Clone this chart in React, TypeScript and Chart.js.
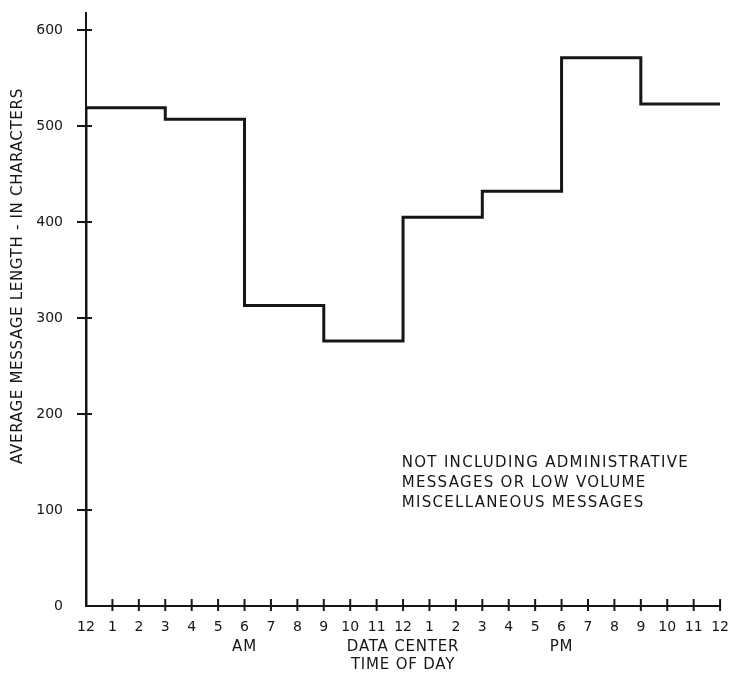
import React, { useEffect, useRef } from "react";
import { Chart, registerables } from "chart.js";

Chart.register(...registerables);

// Step boundaries (hour of day, 0 = midnight) and average message length per block
const stepHours = [0, 3, 6, 9, 12, 15, 18, 21, 24];
const blockValues = [519, 507, 313, 276, 405, 432, 571, 523];
const yTicks = [0, 100, 200, 300, 400, 500, 600];
const hourTicks = Array.from({ length: 25 }, (_, i) => i);
const hourLabels = ["12", "1", "2", "3", "4", "5", "6", "7", "8", "9", "10", "11", "12", "1", "2", "3", "4", "5", "6", "7", "8", "9", "10", "11", "12"];
const yTitle = "AVERAGE MESSAGE LENGTH - IN CHARACTERS";
const noteLines = ["NOT INCLUDING ADMINISTRATIVE", "MESSAGES OR LOW VOLUME", "MISCELLANEOUS MESSAGES"];
const bottomLabels = [
  { hour: 6, lines: ["AM"] },
  { hour: 12, lines: ["DATA CENTER", "TIME OF DAY"] },
  { hour: 18, lines: ["PM"] },
];

const FONT = "'DejaVu Sans', sans-serif";
const INK = "#161616";

export default function App() {
  const ref = useRef<HTMLCanvasElement | null>(null);

  useEffect(() => {
    if (!ref.current) return;
    const points: { x: number; y: number }[] = [{ x: 0, y: 0 }];
    blockValues.forEach((v, i) => points.push({ x: stepHours[i], y: v }));
    points.push({ x: stepHours[stepHours.length - 1], y: blockValues[blockValues.length - 1] });

    const decor = {
      id: "decor",
      afterDraw(chart: any) {
        const ctx = chart.ctx;
        const xs = chart.scales.x;
        const ys = chart.scales.y;
        const left = xs.getPixelForValue(0);
        const right = xs.getPixelForValue(24);
        const bottom = ys.getPixelForValue(0);
        const top = ys.getPixelForValue(600);
        ctx.save();
        ctx.strokeStyle = INK;
        ctx.lineWidth = 2;
        ctx.beginPath();
        ctx.moveTo(left, top - 18);
        ctx.lineTo(left, bottom);
        ctx.lineTo(right, bottom);
        ctx.stroke();
        // y tick marks (cross)
        yTicks.forEach((v) => {
          if (v === 0) return;
          const y = ys.getPixelForValue(v);
          ctx.beginPath();
          ctx.moveTo(left - 9, y);
          ctx.lineTo(left + 6, y);
          ctx.stroke();
        });
        // x tick marks
        hourTicks.forEach((h) => {
          if (h === 0) return;
          const x = xs.getPixelForValue(h);
          ctx.beginPath();
          ctx.moveTo(x, bottom - 7);
          ctx.lineTo(x, bottom + 5);
          ctx.stroke();
        });
        // bottom labels
        ctx.fillStyle = INK;
        ctx.font = `15px ${FONT}`;
        ctx.letterSpacing = "0.8px";
        ctx.textAlign = "center";
        ctx.textBaseline = "middle";
        bottomLabels.forEach((b) => {
          const x = xs.getPixelForValue(b.hour);
          b.lines.forEach((t, i) => ctx.fillText(t, x, bottom + 41 + i * 18));
        });
        // note
        ctx.letterSpacing = "1.3px";
        ctx.textAlign = "left";
        const nx = xs.getPixelForValue(11.95);
        const ny = ys.getPixelForValue(149);
        noteLines.forEach((t, i) => ctx.fillText(t, nx, ny + i * 20));
        // y title
        ctx.letterSpacing = "0.7px";
        ctx.translate(18, (top + bottom) / 2 - 42);
        ctx.rotate(-Math.PI / 2);
        ctx.textAlign = "center";
        ctx.fillText(yTitle, 0, 0);
        ctx.restore();
      },
    };

    const chart = new Chart(ref.current, {
      type: "line",
      data: {
        datasets: [
          {
            data: points,
            stepped: "before",
            borderColor: INK,
            borderWidth: 3,
            pointRadius: 0,
            fill: false,
          },
        ],
      },
      options: {
        animation: false,
        responsive: true,
        maintainAspectRatio: false,
        layout: { padding: { top: 30, right: 9, left: 0, bottom: 0 } },
        plugins: { legend: { display: false }, tooltip: { enabled: false } },
        scales: {
          x: {
            type: "linear",
            min: 0,
            max: 24,
            afterFit: (s: any) => {
              s.height = 67;
            },
            afterBuildTicks: (s: any) => {
              s.ticks = hourTicks.map((h) => ({ value: h }));
            },
            grid: { display: false },
            border: { display: false },
            ticks: {
              autoSkip: false,
              maxRotation: 0,
              padding: 5,
              color: INK,
              font: { family: FONT, size: 14 },
              callback: (v: any) => hourLabels[Number(v)],
            },
          },
          y: {
            min: 0,
            max: 600,
            afterFit: (s: any) => {
              s.width = 86;
            },
            afterBuildTicks: (s: any) => {
              s.ticks = yTicks.map((v) => ({ value: v }));
            },
            grid: { display: false },
            border: { display: false },
            ticks: {
              padding: 15,
              color: INK,
              font: { family: FONT, size: 14 },
            },
          },
        },
      },
      plugins: [decor],
    });
    return () => chart.destroy();
  }, []);

  return (
    <div style={{ position: "fixed", left: 0, top: 0, width: 734, height: 673, background: "#fff" }}>
      <canvas ref={ref} />
    </div>
  );
}
